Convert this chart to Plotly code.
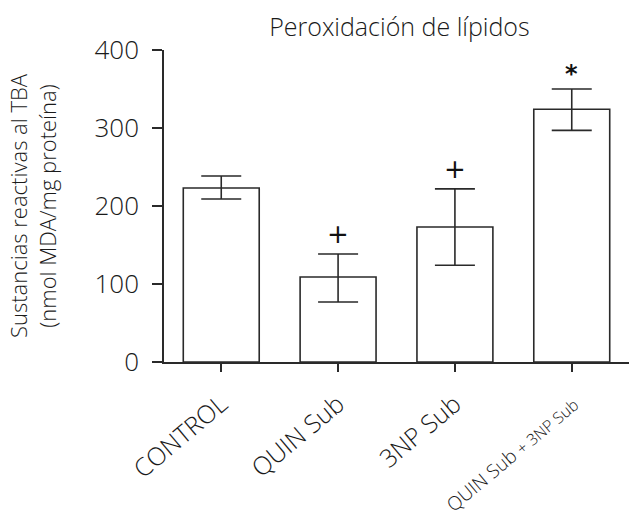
import plotly.graph_objects as go

categories = ["CONTROL", "QUIN Sub", "3NP Sub", "QUIN Sub + 3NP Sub"]
tick_labels = ["CONTROL", "QUIN Sub", "3NP Sub",
               '<span style="font-size:19px">QUIN Sub </span><span style="font-size:16px">+ 3NP Sub</span>']
means = [223, 109, 173, 324]
err_plus = [15.5, 29.5, 49, 26]
err_minus = [14, 32, 49, 27]
marks = ["", "+", "+", "*"]
mark_y = [0, 164, 248, 369]

font_family = "'Open Sans', Lato, sans-serif"
ink = "#2a2a2a"
txt = "#1a1a1a"

fig = go.Figure()
fig.add_trace(go.Bar(
    x=list(range(len(categories))),
    y=means,
    width=0.65,
    marker=dict(color="white", line=dict(color=ink, width=1.6)),
    error_y=dict(type="data", symmetric=False, array=err_plus, arrayminus=err_minus,
                 color=ink, thickness=1.6, width=20),
    showlegend=False,
))

for i, (m, yv) in enumerate(zip(marks, mark_y)):
    if m:
        fig.add_annotation(x=i, y=yv, text=m, showarrow=False,
                           font=dict(size=26 if m == "+" else 24, color="#111",
                                     family="'DejaVu Sans', sans-serif", weight=600 if m == "*" else 400),
                           yanchor="middle")

fig.update_layout(
    width=629, height=525,
    margin=dict(l=164, r=0, t=50, b=163),
    paper_bgcolor="white", plot_bgcolor="white",
    font=dict(family=font_family, color=txt, weight=300),
    title=dict(text="Peroxidación de lípidos", x=0.635, xanchor="center",
               y=0.948, yanchor="middle", font=dict(size=25, color=txt, weight=300)),
    xaxis=dict(range=[-0.49, 3.49], tickmode="array",
               tickvals=list(range(len(categories))), ticktext=tick_labels,
               tickangle=-40, ticks="outside", ticklen=8, tickcolor=ink, tickwidth=1.5,
               ticklabelstandoff=8, automargin=False,
               showline=True, linecolor=ink, linewidth=1.5, showgrid=False,
               tickfont=dict(size=25, color=txt, weight=300), zeroline=False),
    yaxis=dict(range=[0, 400], tickvals=[0, 100, 200, 300, 400],
               ticks="outside", ticklen=10, tickcolor=ink, tickwidth=1.5,
               ticklabelstandoff=8, automargin=False,
               showline=True, linecolor=ink, linewidth=1.5, showgrid=False,
               zeroline=False, tickfont=dict(size=26, color=txt, weight=300),
               title=dict(text="Sustancias reactivas al TBA<br>(nmol MDA/mg proteína)",
                          font=dict(size=22, color=txt, weight=300), standoff=32)),
)

fig.write_html("out.html")
